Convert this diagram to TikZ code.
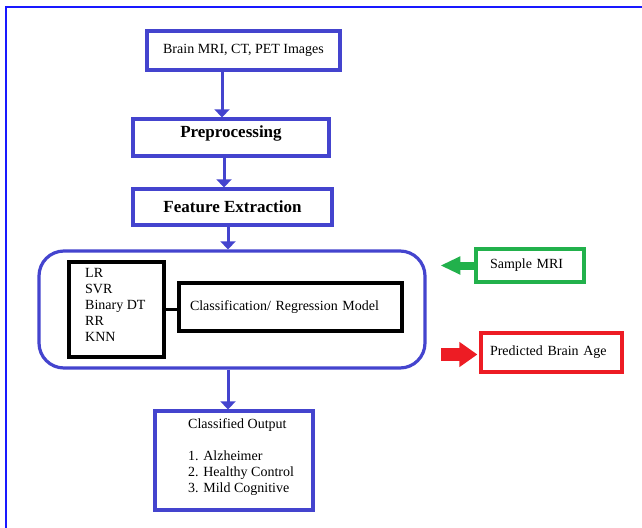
\documentclass[tikz,border=0pt]{standalone}
\usepackage{fontspec}
\setmainfont{Liberation Serif}
\usetikzlibrary{arrows.meta}

\definecolor{boxblue}{RGB}{68,68,206}
\definecolor{frameblue}{RGB}{25,25,255}
\definecolor{samplegreen}{RGB}{34,177,76}
\definecolor{agered}{RGB}{237,28,36}

\begin{document}
\begin{tikzpicture}[x=1pt, y=-1pt,
    bluebox/.style={draw=boxblue, line width=3.2pt, font=\fontsize{14}{16}\selectfont},
    titlebox/.style={bluebox, font=\fontsize{17}{19}\selectfont\bfseries},
    blackbox/.style={draw=black, line width=3.2pt, font=\fontsize{14}{16}\selectfont},
    plain/.style={inner sep=0pt, align=left, font=\fontsize{14}{16}\selectfont},
    bluearrow/.style={draw=boxblue, line width=3pt, -{Triangle[width=15pt, length=8pt]}},
    greenarrow/.style={draw=samplegreen, line width=8pt, -{Triangle[width=17pt, length=20pt]}},
    redarrow/.style={draw=agered, line width=13pt, -{Triangle[width=24pt, length=18pt]}}]
    \useasboundingbox (0,0) rectangle (642,527);

    % Outer frame (cut at right and bottom)
    \draw[frameblue, line width=2.2pt] (6,540) -- (6,7) -- (660,7);

    % Draw the boxes
    \node[bluebox, minimum width=193, minimum height=39] (images) at (243.5,50.5) {Brain MRI, CT, PET Images};
    \node[titlebox, minimum width=196, minimum height=37, text height=11pt, text depth=11pt] (prep) at (231,137.5) {Preprocessing};
    \node[titlebox, minimum width=199, minimum height=36] (feat) at (232.5,207) {Feature Extraction};
    \node[bluebox, rounded corners=25pt, minimum width=386, minimum height=117] (model) at (232,309.5) {};
    \node[blackbox, minimum width=95, minimum height=95] (algos) at (116.5,309.5) {};
    \node[blackbox, minimum width=223, minimum height=48, text width=201pt, inner xsep=11pt, align=left] (regr) at (290.5,307) {Classification/ Regression Model};
    \node[bluebox, minimum width=158, minimum height=99] (output) at (234,460.5) {};
    \node[draw=samplegreen, line width=3.2pt, minimum width=108, minimum height=33, text width=80pt, inner xsep=14pt, align=left, font=\fontsize{14}{16}\selectfont] (sample) at (530,265.5) {Sample MRI};
    \node[draw=agered, line width=3.2pt, minimum width=141, minimum height=39, text width=123pt, inner xsep=9pt, align=left, font=\fontsize{14}{16}\selectfont] (age) at (551.5,352.5) {Predicted Brain Age};

    % Labels inside the boxes
    \node[plain, anchor=north west] (algolist) at (85,268) {LR\\SVR\\Binary DT\\RR\\KNN};
    \node[plain, anchor=north west] (outlist) at (188,418) {Classified Output\\[16pt]1. Alzheimer\\2. Healthy Control\\3. Mild Cognitive};

    % Arrows between boxes
    \coordinate (a1) at (222,0);
    \coordinate (a2) at (224,0);
    \coordinate (a3) at (228,0);
    \draw[bluearrow] (images.south -| a1) -- (prep.north -| a1);
    \draw[bluearrow] (prep.south -| a2) -- (feat.north -| a2);
    \draw[bluearrow] (feat.south -| a3) -- (model.north -| a3);
    \draw[bluearrow] (model.south -| a3) -- (output.north -| a3);
    \draw[black, line width=3pt] (algos.east) -- (algos.east -| regr.west);

    % Input and output arrows
    \draw[greenarrow] (sample.west) -- ++(-34,0);
    \draw[redarrow] ([xshift=-38pt, yshift=-2pt]age.west) -- ([xshift=-2pt, yshift=-2pt]age.west);
\end{tikzpicture}
\end{document}
